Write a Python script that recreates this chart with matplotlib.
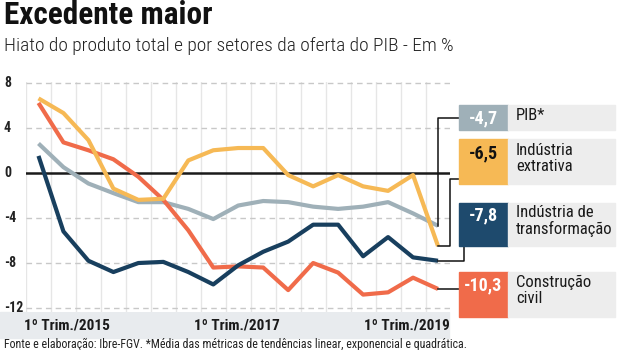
import matplotlib
matplotlib.use("Agg")
import matplotlib.pyplot as plt
from matplotlib.patches import Rectangle
from matplotlib.lines import Line2D

# ---------------- data ----------------
quarters = list(range(17))  # 1º Trim./2015 ... 1º Trim./2019
pib = [2.6, 0.5, -0.95, -1.8, -2.6, -2.6, -3.2, -4.1, -2.9, -2.5, -2.6, -3.0, -3.2, -3.0, -2.6, -3.6, -4.7]
extrativa = [6.6, 5.3, 2.9, -1.4, -2.4, -2.3, 1.1, 2.0, 2.2, 2.2, -0.2, -1.2, -0.2, -1.2, -1.6, -0.2, -6.5]
transformacao = [1.5, -5.2, -7.8, -8.8, -8.0, -7.9, -8.8, -9.9, -8.2, -7.0, -6.1, -4.6, -4.6, -7.4, -5.7, -7.5, -7.8]
construcao = [6.2, 2.7, 2.0, 1.2, -0.35, -2.4, -5.1, -8.4, -8.3, -8.4, -10.4, -8.0, -8.85, -10.8, -10.6, -9.3, -10.3]
xtick_pos = [0, 8, 16]
xtick_labels = ["1º Trim./2015", "1º Trim./2017", "1º Trim./2019"]
yticks = [8, 4, 0, -4, -8, -12]
ytick_labels = ["8", "4", "0", "-4", "-8", "-12"]
series_names = ["PIB*", "Indústria\nextrativa", "Indústria de\ntransformação", "Construção\ncivil"]
series_values_txt = ["-4,7", "-6,5", "-7,8", "-10,3"]

title = "Excedente maior"
subtitle = "Hiato do produto total e por setores da oferta do PIB - Em %"
footer = "Fonte e elaboração: Ibre-FGV. *Média das métricas de tendências linear, exponencial e quadrática."

# ---------------- style ----------------
C_PIB = "#9fb0b8"
C_EXT = "#f6b955"
C_TRA = "#183f5e"
C_CON = "#f06b4a"
NARROW = ["Roboto Condensed", "DejaVu Sans"]

W, H = 625, 350
fig = plt.figure(figsize=(W / 100, H / 100), dpi=100)
fig.patch.set_facecolor("white")

def fx(px):
    return px / W

def fy(py):
    return 1 - py / H

ax_l, ax_r, ax_t, ax_b = 26, 450, 81.5, 311.5
ax = fig.add_axes([fx(ax_l), fy(ax_b), fx(ax_r - ax_l), (ax_b - ax_t) / H])
ax.set_xlim(-0.5, (ax_r - 38) / 25.0)
ax.set_ylim(-12.3, 8.1)
for s in ax.spines.values():
    s.set_visible(False)
ax.set_xticks([])
ax.set_yticks([])

# vertical gridlines between quarters
for k in quarters:
    ax.axvline(k - 0.5, color="#e6e6e6", lw=1.0, zorder=0)
# horizontal dashed gridlines
for v in yticks:
    if v != 0:
        ax.axhline(v, color="#c8c8c8", lw=1.0, ls=(0, (4, 3)), zorder=0)
ax.axhline(0, color="#1a1a1a", lw=1.8, zorder=1)

lw = 3.0
ax.plot(quarters, pib, color=C_PIB, lw=lw, zorder=3, solid_capstyle="butt")
ax.plot(quarters, construcao, color=C_CON, lw=lw, zorder=3, solid_capstyle="butt")
ax.plot(quarters, extrativa, color=C_EXT, lw=lw, zorder=4, solid_capstyle="butt")
ax.plot(quarters, transformacao, color=C_TRA, lw=lw, zorder=5, solid_capstyle="butt")

inv = fig.transFigure.inverted()

# y tick labels at left edge
for v, lab in zip(yticks, ytick_labels):
    disp = ax.transData.transform((0, v))
    yf = inv.transform(disp)[1]
    fig.text(fx(4), yf, lab, ha="left", va="center", fontsize=10,
             fontweight="bold", family=NARROW, color="#222222")

# x label band
fig.add_artist(Rectangle((0, fy(338)), fx(449), (338 - 311.5) / H,
                         transform=fig.transFigure, color="#e8ebee", zorder=0))
xlab_centers_px = [67, 237, 407]
for k, lab, cx in zip(xtick_pos, xtick_labels, xlab_centers_px):
    fig.text(fx(cx), fy(325), lab, ha="center", va="center", fontsize=11,
             fontweight="bold", family=NARROW, color="#1a1a1a")

# titles
fig.text(fx(4), fy(0), title, ha="left", va="top", fontsize=22.5,
         fontweight="heavy", family=NARROW, color="#111111")
fig.text(fx(4), fy(37), subtitle, ha="left", va="top", fontsize=14,
         fontweight="light", family=NARROW, color="#222222")
fig.text(fx(4), fy(344), footer, ha="left", va="center", fontsize=8.6,
         family=NARROW, color="#222222")

# legend boxes
boxes = [  # (top, bottom, color, value text color)
    (105, 130, C_PIB, "white"),
    (139, 184, C_EXT, "#111111"),
    (203, 246, "#1e4a6d", "white"),
    (272, 317, C_CON, "white"),
]
first_line_y = [118, 153, 215, 285]
for (top, bot, col, tcol), name, val, ly in zip(boxes, series_names, series_values_txt, first_line_y):
    fig.add_artist(Rectangle((fx(459), fy(bot)), fx(508 - 459), (bot - top) / H,
                             transform=fig.transFigure, color=col, zorder=2))
    fig.add_artist(Rectangle((fx(508), fy(bot)), fx(615 - 508), (bot - top) / H,
                             transform=fig.transFigure, color="#ededed", zorder=2))
    fig.text(fx(483.5), fy(ly), val, ha="center", va="center", fontsize=13,
             fontweight="bold", family=NARROW, color=tcol, zorder=3)
    fig.text(fx(516), fy(ly - 10), name, ha="left", va="top", fontsize=12,
             family=NARROW, color="#1a1a1a", linespacing=1.05, zorder=3)

# connectors from line ends to boxes
def endpoint_px(series):
    d = ax.transData.transform((quarters[-1], series[-1]))
    f = inv.transform(d)
    return f[0] * W, (1 - f[1]) * H

connectors = [
    (pib, lambda ex, ey: [(ex, ey), (ex, 118), (459, 118)]),
    (extrativa, lambda ex, ey: [(ex, ey), (450, ey), (450, 179), (459, 179)]),
    (transformacao, lambda ex, ey: [(ex, ey), (464, ey), (464, 246)]),
    (construcao, lambda ex, ey: [(ex, ey), (459, ey)]),
]
for series, fn in connectors:
    ex, ey = endpoint_px(series)
    pts = fn(ex, ey)
    fig.add_artist(Line2D([fx(p[0]) for p in pts], [fy(p[1]) for p in pts],
                          transform=fig.transFigure, color="#111111", lw=1.1, zorder=1))

fig.savefig("out.png", dpi=100)
